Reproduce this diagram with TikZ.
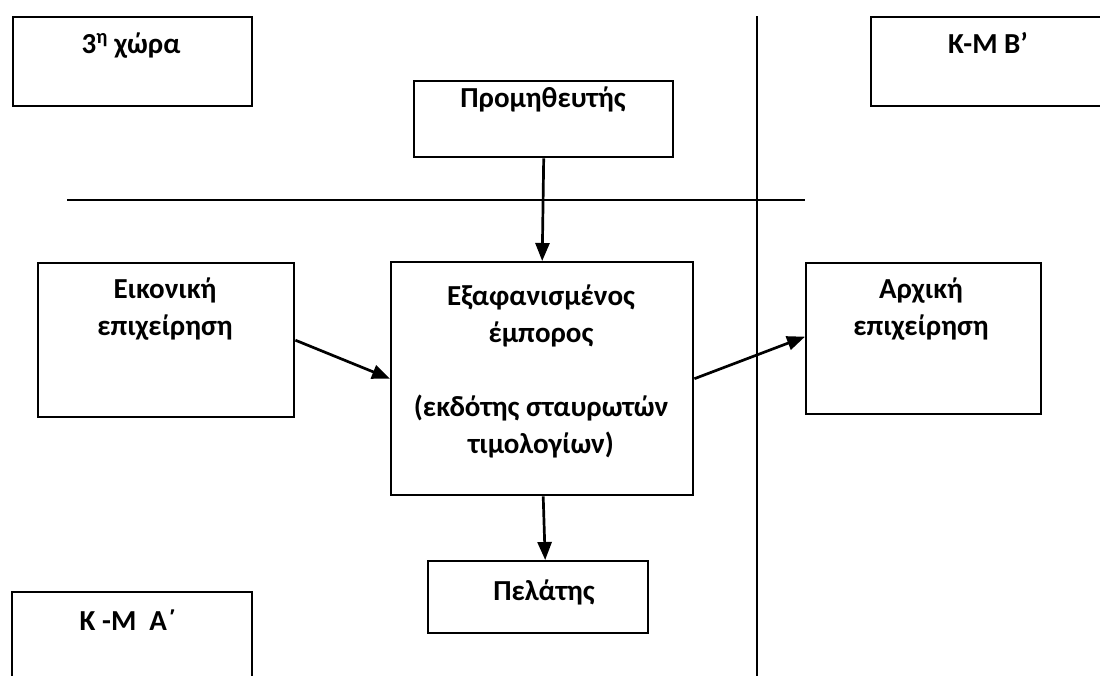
\documentclass[tikz,border=0pt]{standalone}
\usepackage{fontspec}
\setmainfont{Carlito}
\usetikzlibrary{arrows.meta,calc}
\newcommand\tightlines{\lineskiplimit=-20pt\relax\lineskip=0pt\relax}
\begin{document}
\begin{tikzpicture}[x=1pt,y=-1pt,
  box/.style={draw,line width=2.4pt,rectangle,inner sep=0pt,anchor=north west},
  lbl/.style={anchor=base,inner sep=0pt,align=center,
    font=\fontsize{29}{37}\selectfont\bfseries\tightlines},
  flow/.style={line width=2.7pt,-{Triangle[length=18pt,width=14pt]}},
  sep/.style={line width=1.8pt}]
\useasboundingbox[fill=white] (0,0) rectangle (1100,675);

% boxes
\node[box,minimum width=239pt,minimum height=89pt] (third) at (12,16) {};
\node[box,minimum width=240pt,minimum height=89pt] (kmb) at (870,16) {};
\node[box,minimum width=259pt,minimum height=76pt] (prov) at (413,80) {};
\node[box,minimum width=256pt,minimum height=154pt] (eik) at (37,262) {};
\node[box,minimum width=302pt,minimum height=233pt] (exaf) at (390,261) {};
\node[box,minimum width=235pt,minimum height=151pt] (arx) at (805,262) {};
\node[box,minimum width=220pt,minimum height=72pt] (pel) at (427,560) {};
\node[box,minimum width=240pt,minimum height=100pt] (kma) at (11,591) {};

% labels (anchored at the baseline of their last line)
\node[lbl] (t1) at (131,53) {3\textsuperscript{η} χώρα};
\node[lbl] (t2) at (988,53) {K-M B’};
\node[lbl] (t3) at (128,630) {K -M\ \ A΄};
\node[lbl] (t4) at (543,107) {Προμηθευτής};
\node[lbl] (t5) at (165,335) {Εικονική\\επιχείρηση};
\node[lbl] (t6) at (921,335) {Αρχική\\επιχείρηση};
\node[lbl] (t7) at (541,453) {Εξαφανισμένος\\έμπορος\\[0pt]\\(εκδότης σταυρωτών\\τιμολογίων)};
\node[lbl] (t8) at (544,600) {Πελάτης};

% border lines
\coordinate (hl) at (67,200);
\coordinate (hr) at (805,200);
\coordinate (vt) at (757,16);
\coordinate (vb) at (757,680);
\draw[sep] (hl) -- (hr);
\draw[sep] (vt) -- (vb);

% flows
\draw[flow] (prov.south) -- (exaf.north);
\draw[flow] (eik.east) -- (exaf.west);
\draw[flow] (exaf.east) -- ([yshift=2pt]arx.west);
\draw[flow] ([xshift=1pt]exaf.south) -- ([xshift=7pt]pel.north);
\end{tikzpicture}
\end{document}
